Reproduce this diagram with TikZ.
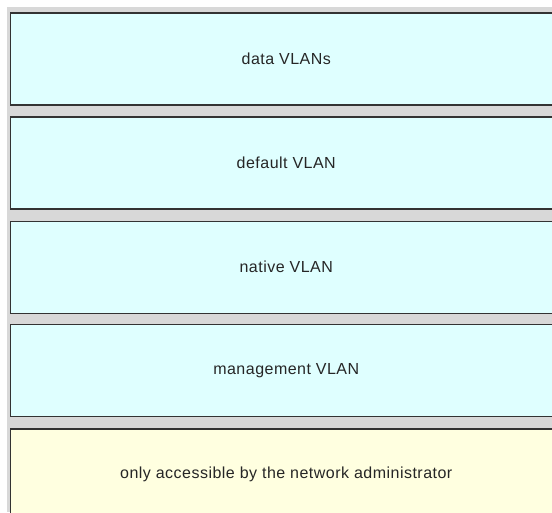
\documentclass[tikz,border=0pt]{standalone}
\usepackage{fontspec}
\setmainfont{Liberation Sans}[LetterSpace=3]
\definecolor{bggray}{HTML}{D8D8D8}
\definecolor{boxcyan}{HTML}{DFFFFF}
\definecolor{boxyellow}{HTML}{FFFFE0}
\definecolor{edgegray}{HTML}{333333}
\begin{document}
\begin{tikzpicture}[x=1pt,y=-1pt,
  slot/.style={draw=edgegray, line width=1.5pt, fill=boxcyan, minimum width=552pt, minimum height=92pt, inner sep=0pt, anchor=north west, font=\fontsize{16}{18}\selectfont, text=black!85},
  answer/.style={slot, fill=boxyellow}]
\useasboundingbox (0,0) rectangle (552,512);
\clip (0,0) rectangle (552,512);
\fill[white] (0,0) rectangle (552,512);
\fill[bggray] (7,7) rectangle (552,512);
\node[slot] (b1) at (9.5,12) {data VLANs};
\node[slot] (b2) at (9.5,116) {default VLAN};
\node[slot] (b3) at (9.5,220.5) {native VLAN};
\node[slot] (b4) at (9.5,323.5) {management VLAN};
\node[answer] (b5) at (9.5,428) {only accessible by the network administrator};
\end{tikzpicture}
\end{document}
